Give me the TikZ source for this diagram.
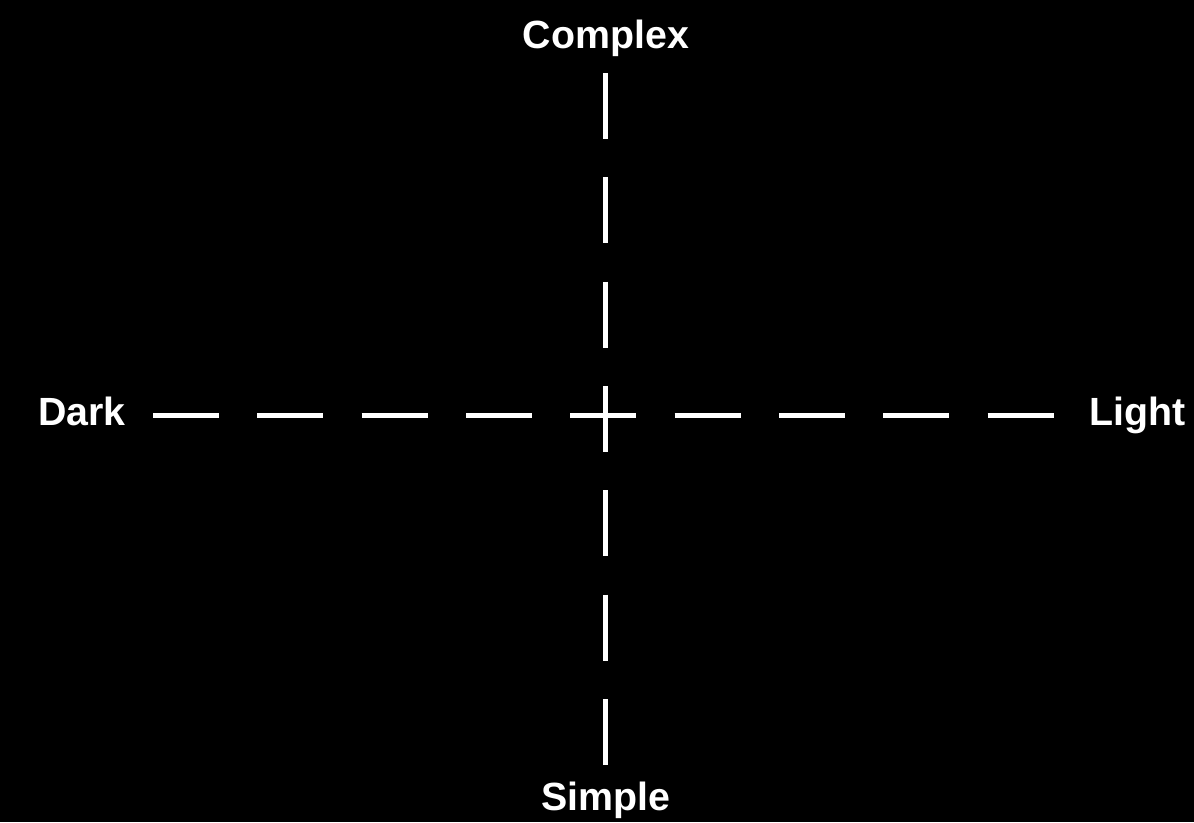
\documentclass[tikz,border=0pt]{standalone}
\usepackage{fontspec}
\usepackage{xcolor}
\usepackage{tikz}
\usetikzlibrary{positioning}
\setsansfont{Liberation Sans}
\definecolor{ground}{HTML}{000000}
\definecolor{chalk}{HTML}{FFFFFF}
\tikzset{pole/.style={font=\sffamily\bfseries\fontsize{29.5}{35}\selectfont,
  text=chalk,inner sep=0pt},
  axis/.style={draw=chalk,line width=3.75pt,dash pattern=on 49.5pt off 28.75pt}}
\begin{document}
\begin{tikzpicture}[x=0.75pt,y=-0.75pt]
\fill[ground] (0,0) rectangle (1194,822);
\useasboundingbox (0,0) rectangle (1194,822);
\node[pole,anchor=base] (complex) at (606,48) {Complex};
\node[pole,anchor=base] (simple) at (606,810) {Simple};
\node[pole,anchor=base east] (dark) at (126,425) {Dark};
\node[pole,anchor=base west] (light) at (1089,425) {Light};
\coordinate (top) at (605,73);
\coordinate (bottom) at (605,765);
\coordinate (left) at (153,415);
\coordinate (right) at (1056,415);
\draw[axis] (left) -- (right);
\draw[axis] (top) -- (bottom);
\end{tikzpicture}
\end{document}
